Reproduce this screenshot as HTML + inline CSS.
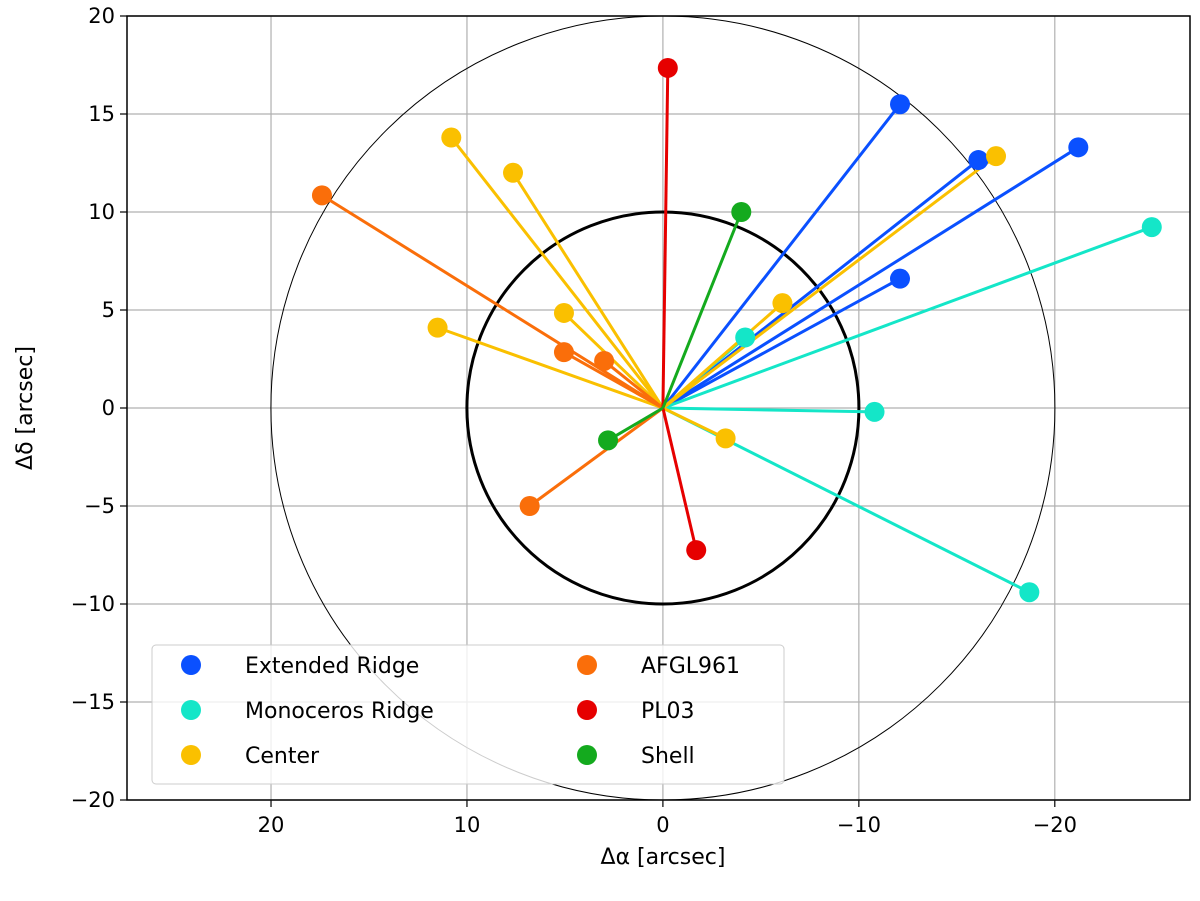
<!DOCTYPE html>
<html><head><meta charset="utf-8"><style>
body{margin:0;background:#fff}
svg{display:block;font-family:"DejaVu Sans","Liberation Sans",sans-serif}
</style></head><body>
<svg id="c" width="1200" height="901"></svg>
<script>
const groups=["Extended Ridge","Monoceros Ridge","Center","AFGL961","PL03","Shell"];
const colors=["#0a50ff","#14e6c8","#fac000","#fa6e0a","#e60000","#14aa1e"];
const extX=[-12.1,-16.1,-21.2,-12.1], extY=[15.5,12.65,13.3,6.6];
const monX=[-24.95,-4.2,-10.8,-18.7], monY=[9.23,3.6,-0.2,-9.4];
const cenX=[10.8,7.65,5.05,11.5,-6.1,-17.0,-3.2], cenY=[13.8,12.0,4.85,4.1,5.35,12.85,-1.55];
const afgX=[17.4,5.05,3.0,6.8], afgY=[10.85,2.85,2.4,-5.0];
const plX=[-0.25,-1.7], plY=[17.35,-7.25];
const shX=[-4.0,2.8], shY=[10.0,-1.65];
const seriesX=[extX,monX,cenX,afgX,plX,shX], seriesY=[extY,monY,cenY,afgY,plY,shY];
const xTicks=[20,10,0,-10,-20], yTicks=[20,15,10,5,0,-5,-10,-15,-20];
const L=127,R=1190,T=16,B=800, xMax=27.35, xMin=-26.9;
const sx=v=>L+(xMax-v)/(xMax-xMin)*(R-L);
const sy=v=>T+(20-v)/40*(B-T);
const NS="http://www.w3.org/2000/svg", svg=document.getElementById('c');
function el(t,a,p){const e=document.createElementNS(NS,t);for(const k in a)e.setAttribute(k,a[k]);(p||svg).appendChild(e);return e;}
const ppu=(B-T)/40;
xTicks.forEach(v=>{const g=el('line',{x1:sx(v),x2:sx(v),y1:T,y2:B,stroke:'#b0b0b0','stroke-width':1.2});


el('line',{x1:sx(v),x2:sx(v),y1:B,y2:B+7,stroke:'#000','stroke-width':1.2});
const t=el('text',{x:sx(v),y:B+32,'text-anchor':'middle','font-size':21});t.textContent=(v<0?'\u2212'+(-v):v);

});
yTicks.forEach(v=>{const g=el('line',{x1:L,x2:R,y1:sy(v),y2:sy(v),stroke:'#b0b0b0','stroke-width':1.2});


el('line',{x1:L-7,x2:L,y1:sy(v),y2:sy(v),stroke:'#000','stroke-width':1.2});
const t=el('text',{x:L-12,y:sy(v)+7,'text-anchor':'end','font-size':21});t.textContent=(v<0?'\u2212'+(-v):v);

});
const c20=el('circle',{cx:sx(0),cy:sy(0),r:20*ppu,fill:'none',stroke:'#000','stroke-width':1});


const c10=el('circle',{cx:sx(0),cy:sy(0),r:10*ppu,fill:'none',stroke:'#000','stroke-width':3});


seriesX.forEach((xs,i)=>{xs.forEach((x,j)=>{const y=seriesY[i][j];
const ln=el('line',{x1:sx(0),y1:sy(0),x2:sx(x),y2:sy(y),stroke:colors[i],'stroke-width':3});

});});
seriesX.forEach((xs,i)=>{xs.forEach((x,j)=>{const y=seriesY[i][j];
const p=el('circle',{cx:sx(x),cy:sy(y),r:10,fill:colors[i]});

});});
const fr=el('rect',{x:L,y:T,width:R-L,height:B-T,fill:'none',stroke:'#000','stroke-width':1.5});


const lg=el('g',{});


el('rect',{x:152,y:645,width:632,height:139,rx:4,fill:'rgba(255,255,255,0.8)',stroke:'#ccc','stroke-width':1},lg);
groups.forEach((g,i)=>{const col=Math.floor(i/3),row=i%3;const mx=col?587:191,tx=col?641:245,y=665+row*45;
el('circle',{cx:mx,cy:y,r:10,fill:colors[i]},lg);
const t=el('text',{x:tx,y:y+8,'font-size':22},lg);t.textContent=g;

});
const xl=el('text',{x:663,y:864,'text-anchor':'middle','font-size':22});xl.textContent='\u0394\u03b1 [arcsec]';


const yl=el('text',{x:0,y:0,'text-anchor':'middle','font-size':22,transform:'translate(32,408) rotate(-90)'});yl.textContent='\u0394\u03b4 [arcsec]';


</script>
</body></html>
